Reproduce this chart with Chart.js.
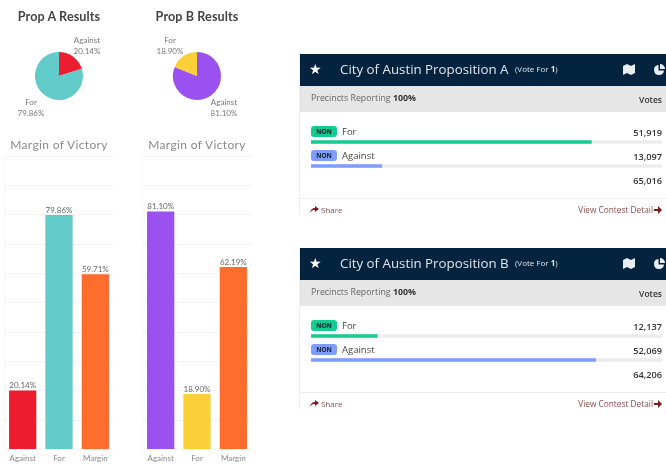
<!DOCTYPE html>
<html>
<head>
<meta charset="utf-8">
<script src="https://cdn.jsdelivr.net/npm/chart.js@4"></script>
<style>
html,body{margin:0;padding:0;background:#fff;overflow:hidden}
#page{position:relative;width:666px;height:464px;overflow:hidden;filter:blur(0.6px);font-family:"Open Sans",sans-serif}
#page canvas{position:absolute}
.t{position:absolute;white-space:nowrap;line-height:1}
.head{font:bold 12.6px Lato,sans-serif;color:#444;transform:translateX(-50%);letter-spacing:.1px}
.sub{font:12px Lato,sans-serif;color:#8a8a8a;transform:translateX(-50%);letter-spacing:.35px}
.lab{font:8px Lato,sans-serif;color:#777;text-align:center;line-height:11px;transform:translateX(-50%)}
.panel{position:absolute;left:299px;width:367px;height:161px;border-left:1px solid #eee;box-sizing:border-box}
.bar{position:absolute;left:0;top:0;width:367px;height:32px;background:#04233f}
.grey{position:absolute;left:0;top:32px;width:367px;height:26px;background:#e6e6e6}
.line{position:absolute;left:0;top:144px;width:367px;height:1px;background:#eee}
.badge{position:absolute;left:11px;width:26px;height:11px;border-radius:3px;font:bold 6.5px/11px "Open Sans",sans-serif;text-align:center;color:#123}
.num{position:absolute;right:4px;font:600 9.2px "Open Sans",sans-serif;color:#333}
</style>
</head>
<body>
<div id="page">
  <div class="t head" style="left:59px;top:9px">Prop A Results</div>
  <div class="t head" style="left:197px;top:9px">Prop B Results</div>
  <div class="t sub" style="left:59px;top:137px">Margin of Victory</div>
  <div class="t sub" style="left:197px;top:137px">Margin of Victory</div>
  <div class="t lab" id="pieLabA0" style="left:87px;top:35px"></div>
  <div class="t lab" id="pieLabA1" style="left:31px;top:97px"></div>
  <div class="t lab" id="pieLabB0" style="left:224px;top:97px"></div>
  <div class="t lab" id="pieLabB1" style="left:170px;top:35px"></div>
  <canvas id="pieA" width="60" height="60" style="left:29px;top:46px;width:60px;height:60px"></canvas>
  <canvas id="pieB" width="60" height="60" style="left:167px;top:46px;width:60px;height:60px"></canvas>
  <canvas id="barA" width="114" height="314" style="left:3px;top:150px;width:114px;height:314px"></canvas>
  <canvas id="barB" width="114" height="314" style="left:141px;top:150px;width:114px;height:314px"></canvas>
  <div id="panelA" class="panel" style="top:54px"></div>
  <div id="panelB" class="panel" style="top:248px"></div>
</div>
<script>
// pie + bar values
var pieCats = ["Against", "For"];
var propA = [20.14, 79.86];
var propB = [81.10, 18.90];
var barCats = ["Against", "For", "Margin"];
var marginA = [20.14, 79.86, 59.71];
var marginB = [81.10, 18.90, 62.19];
var colorsA = ["#ed1c2e", "#62cbc9", "#ff6d2d"];
var colorsB = ["#9b51f0", "#fbcf37", "#ff6d2d"];
var yTicks = [0, 10, 20, 30, 40, 50, 60, 70, 80, 90, 100];

// results tables
var voteCats = ["For", "Against"];
var votesA = [51919, 13097];
var votesB = [12137, 52069];
var totalA = 65016;
var totalB = 64206;
var voteColors = ["#14cc92", "#7f9dff"];

function pct(v){ return v.toFixed(2) + "%"; }

function pieChart(id, values, colors){
  new Chart(document.getElementById(id).getContext("2d"), {
    type: "pie",
    data: { labels: pieCats, datasets: [{ data: values, backgroundColor: colors, borderWidth: 0 }] },
    options: {
      responsive: false, animation: false, radius: 24,
      layout: { padding: 0 },
      plugins: { legend: { display: false }, tooltip: { enabled: false } }
    }
  });
}

// values on top of the bars
var barLabels = {
  id: "barLabels",
  afterDatasetsDraw: function(chart){
    var c = chart.ctx;
    c.save();
    c.font = "8px Lato, sans-serif";
    c.fillStyle = "#666";
    c.textAlign = "center";
    c.textBaseline = "bottom";
    chart.getDatasetMeta(0).data.forEach(function(el, i){
      c.fillText(pct(chart.data.datasets[0].data[i]), el.x, el.y - 1);
    });
    c.restore();
  }
};

function barChart(id, values, colors){
  new Chart(document.getElementById(id).getContext("2d"), {
    type: "bar",
    data: { labels: barCats, datasets: [{ data: values, backgroundColor: colors, barPercentage: 0.75, categoryPercentage: 1 }] },
    options: {
      responsive: false, animation: false,
      layout: { padding: { top: 6, left: 1.5, right: 3.5, bottom: 0 } },
      plugins: { legend: { display: false }, tooltip: { enabled: false } },
      scales: {
        x: {
          afterFit: function(s){ s.height = 14.5; },
          border: { display: false },
          grid: { drawTicks: false, color: function(ctx){ return ctx.index === 0 ? "#f6f6f6" : "rgba(0,0,0,0)"; } },
          ticks: { padding: 4, color: "#888", maxRotation: 0, font: { family: "Lato", size: 8 } }
        },
        y: {
          min: 0, max: 100,
          afterBuildTicks: function(s){ s.ticks = yTicks.map(function(v){ return { value: v }; }); },
          afterFit: function(s){ s.width = 0; },
          border: { display: false },
          grid: { drawTicks: false, color: "#f3f3f3" },
          ticks: { display: false }
        }
      }
    },
    plugins: [barLabels]
  });
}

function voteChart(id, values, total){
  new Chart(document.getElementById(id).getContext("2d"), {
    type: "bar",
    data: {
      labels: voteCats,
      datasets: [
        { data: values, backgroundColor: voteColors, barThickness: 3, grouped: false, order: 1 },
        { data: voteCats.map(function(){ return total; }), backgroundColor: "#ececec", barThickness: 3, grouped: false, order: 2 }
      ]
    },
    options: {
      indexAxis: "y",
      responsive: false, animation: false,
      layout: { padding: 0 },
      plugins: { legend: { display: false }, tooltip: { enabled: false } },
      scales: {
        x: { display: false, min: 0, max: total },
        y: { display: false }
      }
    }
  });
}

function fmt(n){ return n.toLocaleString("en-US"); }

function panel(id, letter, votes, total){
  var voteText = "";
  for(var i = 0; i < voteCats.length; i++){
    voteText += '<div class="badge" style="top:' + (72 + i * 24) + 'px;background:' + voteColors[i] + '">NON</div>'
      + '<div class="t" style="left:42px;top:' + (73 + i * 24) + 'px;font-size:9.5px;color:#444">' + voteCats[i] + '</div>'
      + '<div class="t num" style="top:' + (72 + i * 24) + 'px">' + fmt(votes[i]) + '</div>';
  }
  document.getElementById(id).innerHTML =
    '<div class="bar"></div><div class="grey"></div><div class="line"></div>'
    + '<div class="t" style="left:9px;top:7px;font:14px DejaVu Sans;color:#fff">&#9733;</div>'
    + '<div class="t" style="left:40px;top:9px;font-size:13.3px;color:#dfe6ec">City of Austin Proposition ' + letter + '</div>'
    + '<div class="t" style="left:215px;top:11px;font-size:8px;color:#dfe6ec">(Vote For <b>1</b>)</div>'
    + '<svg style="position:absolute;left:323px;top:10px" width="12" height="11" viewBox="0 0 12 11"><path d="M0 2 4 0 8 2 12 0V9L8 11 4 9 0 11Z" fill="#e8edf1"/></svg>'
    + '<svg style="position:absolute;left:353px;top:10px" width="12" height="12" viewBox="0 0 12 12"><path d="M5.5 1A5 5 0 1 0 11 6.500H5.500Z M7 0A5 5 0 0 1 12 5H7Z" fill="#e8edf1"/></svg>'
    + '<div class="t" style="left:11px;top:40px;font-size:8.8px;color:#666">Precincts Reporting <b style="color:#333">100%</b></div>'
    + '<div class="t" style="right:4px;top:40px;font:600 8.5px \'Open Sans\';color:#333">Votes</div>'
    + voteText
    + '<div class="t num" style="top:120px">' + fmt(total) + '</div>'
    + '<svg style="position:absolute;left:10px;top:152px" width="9" height="7" viewBox="0 0 9 7"><path d="M5 0 9 3 5 6V4C3 4 1.500 4.500 0 7 .5 3.500 2.500 2 5 2Z" fill="#7a1c1c"/></svg>'
    + '<div class="t" style="left:21px;top:152px;font-size:8px;color:#8f4a4a">Share</div>'
    + '<div class="t" style="right:13px;top:152px;font-size:8.3px;color:#8f4a4a">View Contest Detail</div>'
    + '<svg style="position:absolute;right:4px;top:152px" width="8" height="8" viewBox="0 0 8 8"><path d="M0 3H4V0L8 4 4 8V5H0Z" fill="#7a1c1c"/></svg>'
    + '<canvas id="' + id + 'Bars" width="351" height="48" style="left:11px;top:76px;width:351px;height:48px"></canvas>';
}

function pieLabel(id, name, v){
  document.getElementById(id).innerHTML = name + "<br>" + pct(v);
}

pieLabel("pieLabA0", pieCats[0], propA[0]);
pieLabel("pieLabA1", pieCats[1], propA[1]);
pieLabel("pieLabB0", pieCats[0], propB[0]);
pieLabel("pieLabB1", pieCats[1], propB[1]);

pieChart("pieA", propA, [colorsA[0], colorsA[1]]);
pieChart("pieB", propB, [colorsB[0], colorsB[1]]);
barChart("barA", marginA, colorsA);
barChart("barB", marginB, colorsB);

panel("panelA", "A", votesA, totalA);
panel("panelB", "B", votesB, totalB);
voteChart("panelABars", votesA, totalA);
voteChart("panelBBars", votesB, totalB);
</script>
</body>
</html>
